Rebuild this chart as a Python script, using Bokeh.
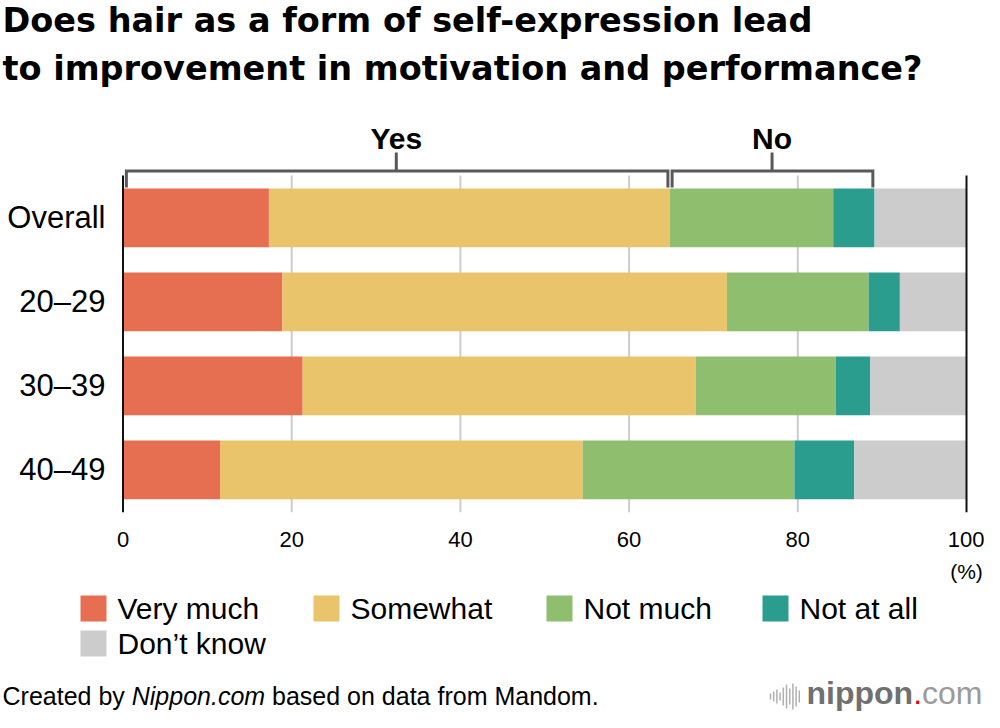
from bokeh.plotting import figure
from bokeh.models import ColumnDataSource, Range1d, FixedTicker
from bokeh.layouts import column
from bokeh.core.properties import value
from bokeh.embed import file_html
from bokeh.resources import INLINE

# ---------------- data ----------------
categories = ["Overall", "20–29", "30–39", "40–49"]
series = ["Very much", "Somewhat", "Not much", "Not at all", "Don’t know"]
very_much = [17.3, 18.9, 21.3, 11.5]
somewhat = [47.5, 52.7, 46.6, 43.0]
not_much = [19.4, 16.8, 16.6, 25.1]
not_at_all = [4.9, 3.7, 4.1, 7.1]
dont_know = [10.9, 7.9, 11.4, 13.3]
x_ticks = [0, 20, 40, 60, 80, 100]
colors = ["#E76F51", "#E9C46A", "#8FBF6E", "#2A9D8F", "#CCCCCC"]
group_labels = ["Yes", "No"]
title_lines = ["Does hair as a form of self-expression lead",
               "to improvement in motivation and performance?"]
unit_label = "(%)"
footer_parts = ["Created by", "Nippon.com", "based on data from Mandom."]

# ---------------- layout constants ----------------
W = 984
FRAME_H = 512
HA = FRAME_H + 44
HB = 712 - HA
PX0 = 122.5          # canvas px of x = 0
PXS = 8.435          # px per percent
ROW0 = 217.3         # canvas px of first category centre
PITCH = 84.0


def fx(px):
    return (px - PX0) / PXS


def fy(py):
    return (py - ROW0) / PITCH


def by(py):
    return py - HA


# ---------------- main figure ----------------
p = figure(width=W, height=HA,
           x_range=Range1d(-PX0 / PXS, (W - PX0) / PXS),
           y_range=Range1d((FRAME_H - ROW0) / PITCH, -ROW0 / PITCH),
           output_backend="svg", toolbar_location=None,
           y_axis_location=None,
           min_border_left=0, min_border_right=0, min_border_top=0,
           min_border_bottom=44)
p.outline_line_color = None
p.background_fill_color = "white"
p.border_fill_color = "white"
p.grid.visible = False

p.xaxis.ticker = FixedTicker(ticks=x_ticks)
p.xaxis.axis_line_color = None
p.xaxis.major_tick_line_color = None
p.xaxis.minor_tick_line_color = None
p.xaxis.major_label_standoff = 13
p.xaxis.major_label_text_font = "Liberation Sans"
p.xaxis.major_label_text_font_size = "22px"
p.xaxis.major_label_text_color = "#000000"

# grid lines
grid_ticks = x_ticks[1:-1]
p.segment(x0=grid_ticks, y0=[fy(175)] * len(grid_ticks),
          x1=grid_ticks, y1=[fy(512)] * len(grid_ticks),
          line_color="#cccccc", line_width=2)

# bars
src = {"y": list(range(len(categories)))}
for name, vals in zip(series, [very_much, somewhat, not_much, not_at_all, dont_know]):
    src[name] = vals
source = ColumnDataSource(src)
p.hbar_stack(series, y="y", height=0.70, fill_color=colors, line_color=None,
             source=source)

# axis lines at 0 and 100
edge_ticks = [x_ticks[0], x_ticks[-1]]
p.segment(x0=edge_ticks, y0=[fy(175)] * 2, x1=edge_ticks, y1=[fy(512)] * 2,
          line_color="#111111", line_width=2)

# category labels
p.text(x=[fx(105)] * len(categories), y=list(range(len(categories))),
       text=categories, text_align="right", text_baseline="middle",
       text_font=value("Liberation Sans"), text_font_size="31px",
       text_color="#000000")

# Yes / No brackets (from the Overall row)
yes_end = very_much[0] + somewhat[0]
no_end = yes_end + not_much[0] + not_at_all[0]
top = fy(170.5)
bot = fy(187)
tick_top = fy(152)
p.multi_line(xs=[[0.4, 0.4, yes_end - 0.2, yes_end - 0.2],
                 [yes_end + 0.3, yes_end + 0.3, no_end - 0.2, no_end - 0.2]],
             ys=[[bot, top, top, bot], [bot, top, top, bot]],
             line_color="#595959", line_width=3, line_join="miter")
mids = [yes_end / 2, (yes_end + no_end) / 2]
p.segment(x0=mids, y0=[top] * 2, x1=mids, y1=[tick_top] * 2,
          line_color="#595959", line_width=3)
p.text(x=mids, y=[fy(137.5)] * 2, text=group_labels, text_align="center",
       text_baseline="middle", text_font=value("Liberation Sans"),
       text_font_style="bold", text_font_size="30px", text_color="#000000")

# title
p.text(x=[fx(2)] * 2, y=[fy(20), fy(68)], text=title_lines,
       text_align="left", text_baseline="middle",
       text_font=value("DejaVu Sans"), text_font_style="bold",
       text_font_size="33.5px", text_color="#000000")

# ---------------- bottom figure (unit, legend, footer) ----------------
q = figure(width=W, height=HB, x_range=Range1d(0, W), y_range=Range1d(HB, 0),
           output_backend="svg", toolbar_location=None,
           x_axis_location=None, y_axis_location=None, min_border=0)
q.outline_line_color = None
q.background_fill_color = "white"
q.border_fill_color = "white"
q.grid.visible = False

q.text(x=[PX0 + 100 * PXS], y=[by(571)], text=[unit_label], text_align="center",
       text_baseline="middle", text_font=value("Liberation Sans"),
       text_font_size="21px", text_color="#000000")

# legend
leg_x = [80, 313, 546, 762, 80]
leg_c = [608, 608, 608, 608, 643]
q.rect(x=[v + 13 for v in leg_x], y=[by(v) for v in leg_c],
       width=26, height=26, fill_color=colors, line_color=None)
q.text(x=[v + 37 for v in leg_x], y=[by(v) for v in leg_c], text=series,
       text_align="left", text_baseline="middle",
       text_font=value("Liberation Sans"), text_font_size="30px",
       text_color="#000000")

# footer
fs = 25
fm = by(695)
q.text(x=[2], y=[fm], text=[footer_parts[0]], text_baseline="middle",
       text_font=value("Liberation Sans"), text_font_size=f"{fs}px",
       text_color="#000000")
x2 = 2 + 5.169 * fs
q.text(x=[x2], y=[fm], text=[footer_parts[1]], text_baseline="middle",
       text_font=value("Liberation Sans"), text_font_style="italic",
       text_font_size=f"{fs}px", text_color="#000000")
x3 = x2 + 5.613 * fs
q.text(x=[x3], y=[fm], text=[footer_parts[2]], text_baseline="middle",
       text_font=value("Liberation Sans"), text_font_size=f"{fs}px",
       text_color="#000000")

# logo
ls = 32
lx = 806
lm = by(692.5)
q.text(x=[lx], y=[lm], text=["nippon"], text_baseline="middle",
       text_font=value("Liberation Sans"), text_font_style="bold",
       text_font_size=f"{ls}px", text_color="#707070")
q.text(x=[lx + 3.333 * ls], y=[lm], text=["."], text_baseline="middle",
       text_font=value("Liberation Sans"), text_font_size=f"{ls}px",
       text_color="#e60012")
q.text(x=[lx + 3.611 * ls], y=[lm], text=["com"], text_baseline="middle",
       text_font=value("Liberation Sans"), text_font_size=f"{ls}px",
       text_color="#9a9a9a")
icon_x = [770 + 3.2 * k for k in range(10)]
icon_h = [6, 10, 14, 8, 18, 24, 16, 26, 20, 12]
icon_c = by(696)
q.segment(x0=icon_x, y0=[icon_c - h / 2 for h in icon_h],
          x1=icon_x, y1=[icon_c + h / 2 for h in icon_h],
          line_color="#b0b0b0", line_width=1.5)

layout = column(p, q, spacing=0)
open("out.html", "w").write(file_html(layout, INLINE))
